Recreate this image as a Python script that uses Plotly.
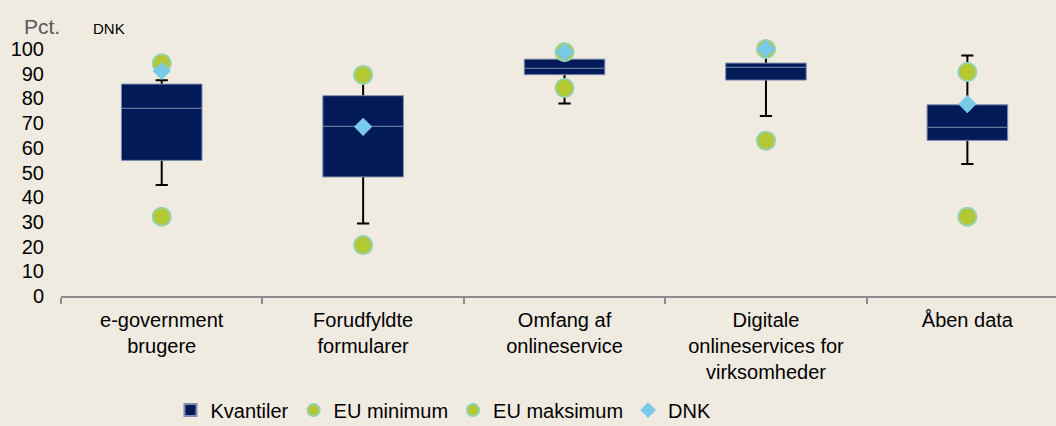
import plotly.graph_objects as go

categories = ["e-government<br>brugere", "Forudfyldte<br>formularer", "Omfang af<br>onlineservice",
              "Digitale<br>onlineservices for<br>virksomheder", "Åben data"]
q1 = [54.9, 48.2, 89.6, 87.4, 63.0]
median = [76.0, 68.7, 92.2, 92.6, 68.3]
q3 = [85.8, 81.1, 95.9, 94.3, 77.4]
whisker_low = [44.9, 29.4, 77.9, 72.9, 53.4]
whisker_high = [87.3, 89.0, 98.0, 99.5, 97.4]
eu_min = [32.1, 20.6, 84.2, 62.9, 32.1]
eu_max = [94.2, 89.5, 98.7, 100.0, 90.7]
dnk = [91.1, 68.5, 98.7, 100.0, 77.7]
y_ticks = list(range(0, 101, 10))

BG = "#F0EBE0"
NAVY = "#021B58"
GREEN = "#B3C833"
GREEN_EDGE = "#95D1AC"
LIGHTBLUE = "#79CAE8"
FONT = "Liberation Sans, Arial, sans-serif"

fig = go.Figure()

# whiskers (black) - drawn beneath the box
fig.add_trace(go.Box(
    x=categories, q1=median, median=median, q3=median,
    lowerfence=whisker_low, upperfence=whisker_high,
    width=0.38, whiskerwidth=0.16,
    line=dict(color="black", width=2), fillcolor="rgba(0,0,0,0)",
    showlegend=False, hoverinfo="skip", name="whiskers",
))
# quartile boxes
fig.add_trace(go.Box(
    x=categories, q1=q1, median=median, q3=q3,
    lowerfence=q1, upperfence=q3,
    width=0.4, whiskerwidth=0,
    line=dict(color="#7F8DB0", width=1), fillcolor=NAVY,
    name="Kvantiler", showlegend=True,
))
fig.add_trace(go.Scatter(
    x=categories, y=eu_min, mode="markers", name="EU minimum", cliponaxis=False,
    marker=dict(symbol="circle", size=18, color=GREEN, line=dict(color=GREEN_EDGE, width=2)),
))
fig.add_trace(go.Scatter(
    x=categories, y=eu_max, mode="markers", name="EU maksimum", cliponaxis=False,
    marker=dict(symbol="circle", size=18, color=GREEN, line=dict(color=GREEN_EDGE, width=2)),
))
fig.add_trace(go.Scatter(
    x=categories, y=dnk, mode="markers", name="DNK", cliponaxis=False,
    marker=dict(symbol="diamond", size=14, color=LIGHTBLUE, line=dict(width=0)),
))

fig.update_layout(
    width=1056, height=426,
    paper_bgcolor=BG, plot_bgcolor=BG,
    margin=dict(l=61, r=0, t=49, b=130, autoexpand=False),
    boxmode="overlay",
    font=dict(family=FONT, color="black", size=19),
    xaxis=dict(
        type="category", range=[-0.5, 4.44], automargin=False,
        showline=True, linecolor="#8C8C8C", linewidth=2,
        ticks="outside", tickson="boundaries", ticklen=6, tickcolor="#8C8C8C", tickwidth=1.5,
        showgrid=False, tickfont=dict(size=20), ticklabelstandoff=5,
    ),
    yaxis=dict(
        range=[0, 100], tickvals=y_ticks, showgrid=False, zeroline=False, showline=False,
        tickfont=dict(size=20), ticklabelstandoff=16, automargin=False,
    ),
    legend=dict(
        orientation="h", x=0.11, xanchor="left", y=-0.462, yanchor="middle",
        font=dict(size=20), itemsizing="constant", bgcolor="rgba(0,0,0,0)",
    ),
    annotations=[
        dict(text="Pct.", xref="paper", yref="paper", x=-0.039, y=1.09, xanchor="left", yanchor="middle",
             showarrow=False, font=dict(size=21, color="#595959")),
        dict(text="DNK", xref="paper", yref="paper", x=0.03, y=1.085, xanchor="left", yanchor="middle",
             showarrow=False, font=dict(size=15, color="black")),
    ],
)

fig.write_html("out.html", config={"displayModeBar": False},
               post_script="document.body.style.margin='0';document.body.style.overflow='hidden';")
